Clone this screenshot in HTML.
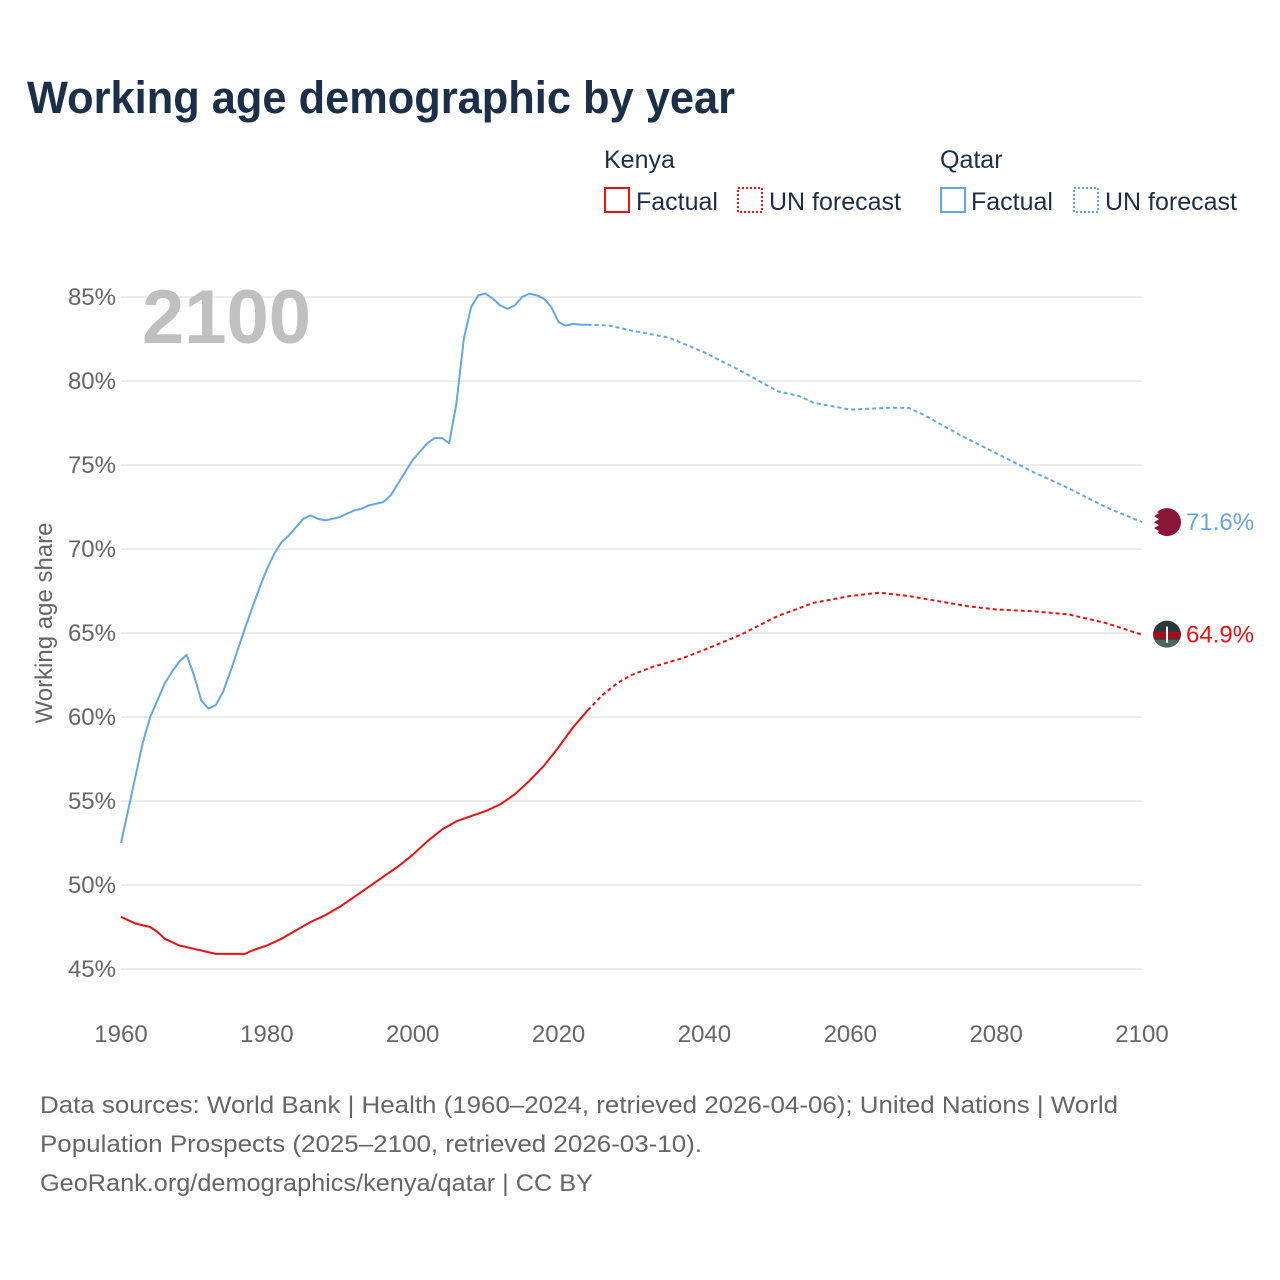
<!DOCTYPE html>
<html><head><meta charset="utf-8"><style>
body{margin:0;background:#fff;font-family:"Liberation Sans",sans-serif;}
#wrap{position:relative;width:1280px;height:1280px;overflow:hidden;}
</style></head><body>
<div id="wrap">
<svg id="chart" width="1280" height="1280" xmlns="http://www.w3.org/2000/svg">
<defs><clipPath id="kclip"><circle cx="1167" cy="633.6" r="14"/></clipPath></defs>
<text x="27" y="113" font-size="45" font-weight="bold" fill="#1b2f4b" textLength="708" lengthAdjust="spacingAndGlyphs">Working age demographic by year</text>
<g font-size="25" fill="#1b2f4b">
<text x="604" y="168">Kenya</text>
<rect x="605" y="188" width="24" height="24" fill="none" stroke="#ee1111" stroke-width="2"/>
<text x="636" y="210">Factual</text>
<rect x="738" y="188" width="24" height="24" fill="none" stroke="#ee1111" stroke-width="2" stroke-dasharray="2,2"/>
<text x="769" y="210">UN forecast</text>
<text x="940" y="168">Qatar</text>
<rect x="941" y="188" width="24" height="24" fill="none" stroke="#62a8e8" stroke-width="2"/>
<text x="971" y="210">Factual</text>
<rect x="1074" y="188" width="24" height="24" fill="none" stroke="#62a8e8" stroke-width="2" stroke-dasharray="2,2"/>
<text x="1105" y="210">UN forecast</text>
</g>
<g id="grid"></g>
<text x="142" y="343" font-size="76" font-weight="bold" fill="#c0c0c0">2100</text>
<text transform="translate(52,623) rotate(-90)" text-anchor="middle" font-size="24" fill="#666">Working age share</text>
<g id="series"></g>
<g font-size="24" fill="#666">
<text x="40" y="1113" textLength="1078" lengthAdjust="spacingAndGlyphs">Data sources: World Bank | Health (1960–2024, retrieved 2026-04-06); United Nations | World</text>
<text x="40" y="1152" textLength="662" lengthAdjust="spacingAndGlyphs">Population Prospects (2025–2100, retrieved 2026-03-10).</text>
<text x="40" y="1191" textLength="553" lengthAdjust="spacingAndGlyphs">GeoRank.org/demographics/kenya/qatar | CC BY</text>
</g>
</svg></div>
<script>
const yTicks=[45,50,55,60,65,70,75,80,85];
const xTicks=[1960,1980,2000,2020,2040,2060,2080,2100];
const qatarFactYears=[1960,1961,1962,1963,1964,1965,1966,1967,1968,1969,1970,1971,1972,1973,1974,1975,1976,1977,1978,1979,1980,1981,1982,1983,1984,1985,1986,1987,1988,1989,1990,1991,1992,1993,1994,1995,1996,1997,1998,1999,2000,2001,2002,2003,2004,2005,2006,2007,2008,2009,2010,2011,2012,2013,2014,2015,2016,2017,2018,2019,2020,2021,2022,2023,2024];
const qatarFactValues=[52.5,54.5,56.5,58.5,60,61,62,62.7,63.3,63.7,62.5,61,60.5,60.7,61.5,62.7,64,65.3,66.5,67.7,68.8,69.7,70.4,70.8,71.3,71.8,72,71.8,71.7,71.8,71.9,72.1,72.3,72.4,72.6,72.7,72.8,73.2,73.9,74.6,75.3,75.8,76.3,76.6,76.6,76.3,78.7,82.5,84.4,85.1,85.2,84.9,84.5,84.3,84.5,85,85.2,85.1,84.9,84.4,83.5,83.3,83.4,83.35,83.35];
const qatarFcYears=[2024,2027,2030,2035,2040,2045,2050,2053,2055,2060,2065,2068,2070,2075,2080,2085,2090,2095,2100];
const qatarFcValues=[83.35,83.3,83,82.6,81.7,80.6,79.4,79.1,78.7,78.3,78.4,78.4,78,76.8,75.7,74.6,73.6,72.5,71.6];
const kenyaFactYears=[1960,1962,1964,1965,1966,1968,1970,1973,1977,1978,1980,1982,1984,1986,1988,1990,1992,1994,1996,1998,2000,2002,2004,2006,2008,2010,2012,2014,2016,2018,2020,2022,2024];
const kenyaFactValues=[48.1,47.7,47.5,47.2,46.8,46.4,46.2,45.9,45.9,46.1,46.4,46.8,47.3,47.8,48.2,48.7,49.3,49.9,50.5,51.1,51.8,52.6,53.3,53.8,54.1,54.4,54.8,55.4,56.2,57.1,58.2,59.4,60.4];
const kenyaFcYears=[2024,2026,2028,2030,2033,2037,2040,2045,2050,2055,2060,2064,2068,2072,2076,2080,2085,2090,2095,2100];
const kenyaFcValues=[60.4,61.3,62,62.5,63,63.5,64,64.9,66,66.8,67.2,67.4,67.2,66.9,66.6,66.4,66.3,66.1,65.6,64.9];
const NS="http://www.w3.org/2000/svg";
const X=y=>121+(y-1960)*(1021/140);
const Y=v=>969-(v-45)*16.8;
const grid=document.getElementById('grid'),series=document.getElementById('series');
function mk(tag,attrs,parent){const e=document.createElementNS(NS,tag);for(const k in attrs)e.setAttribute(k,attrs[k]);parent.appendChild(e);return e;}
yTicks.forEach(t=>{
 const l=mk('line',{x1:121,x2:1142,y1:Y(t),y2:Y(t),stroke:'#e6e6e6','stroke-width':1.5},grid);
 
 
 const tx=mk('text',{x:116,y:Y(t)+8,'text-anchor':'end','font-size':24,fill:'#666'},grid);tx.textContent=t+'%';
 
 
});
xTicks.forEach(t=>{
 const tx=mk('text',{x:X(t),y:1042,'text-anchor':'middle','font-size':24,fill:'#666'},grid);tx.textContent=t;
 
 
});
function line(xs,vs,color,dash,name){
 const d=xs.map((x,i)=>(i?'L':'M')+X(x).toFixed(1)+','+Y(vs[i]).toFixed(1)).join('');
 const p=mk('path',{d:d,fill:'none',stroke:color,'stroke-width':2,'stroke-linejoin':'round'},series);
 if(dash)p.setAttribute('stroke-dasharray','4,3');
 
 
}
line(qatarFactYears,qatarFactValues,'#62a8e8',false,'qatar-factual-line');
line(qatarFcYears,qatarFcValues,'#62a8e8',true,'qatar-forecast-line');
line(kenyaFactYears,kenyaFactValues,'#ee1111',false,'kenya-factual-line');
line(kenyaFcYears,kenyaFcValues,'#ee1111',true,'kenya-forecast-line');
const qv=qatarFcValues[qatarFcValues.length-1],kv=kenyaFcValues[kenyaFcValues.length-1];
const qf=mk('g',{},series);


mk('circle',{cx:1167,cy:Y(qv),r:14,fill:'#8a1538'},qf);
mk('path',{d:`M1153,${Y(qv)-12} l6,3 -5,3 5,3 -5,3 5,3 -5,3 5,3 -4,4 -4,-12z`,fill:'#fff'},qf);
const kf=mk('g',{'clip-path':'url(#kclip)'},series);


mk('circle',{cx:1167,cy:Y(kv),r:14,fill:'#2a3a3a'},kf);
mk('rect',{x:1153,y:Y(kv)-3,width:28,height:7,fill:'#a01020'},kf);
mk('rect',{x:1153,y:Y(kv)+5,width:28,height:9,fill:'#4a6a60'},kf);
mk('line',{x1:1167,x2:1167,y1:Y(kv)-8,y2:Y(kv)+8,stroke:'#fff','stroke-width':2},kf);
const ql=mk('text',{x:1186,y:Y(qv)+8,'font-size':24,fill:'#62a8e8'},series);ql.textContent=qv.toFixed(1)+'%';


const kl=mk('text',{x:1186,y:Y(kv)+8,'font-size':24,fill:'#ee1111'},series);kl.textContent=kv.toFixed(1)+'%';


</script>
</body></html>
